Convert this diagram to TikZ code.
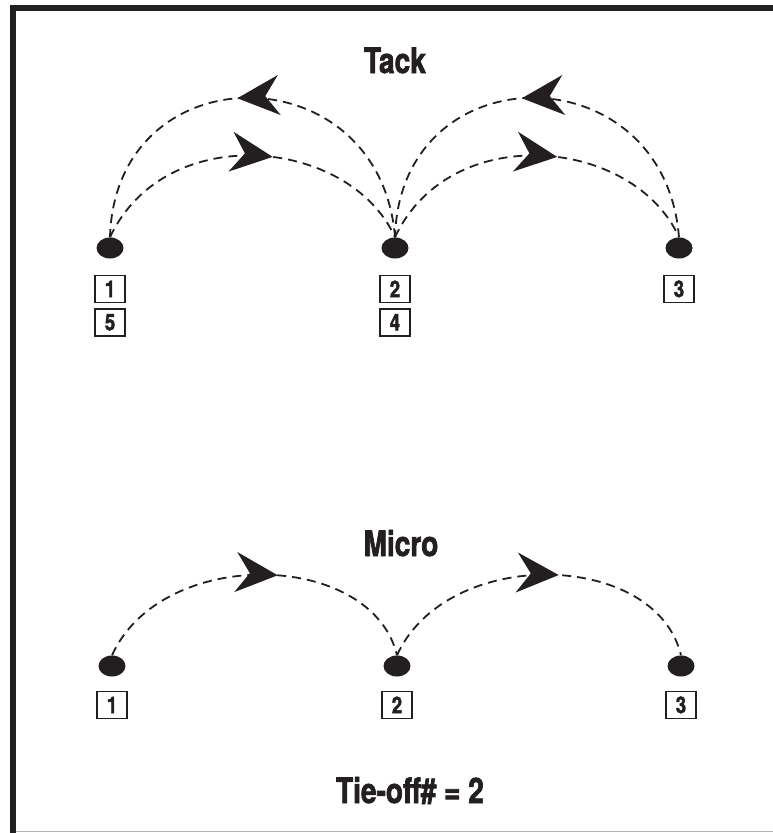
\documentclass[tikz,border=0pt]{standalone}
\usepackage{fontspec}
\setmainfont{TeX Gyre Heros}[FakeStretch=0.8,BoldFeatures={FakeBold=2}]
\usetikzlibrary{arrows.meta,positioning,shapes.geometric,decorations.markings}
\definecolor{ink}{RGB}{35,31,32}

\tikzset{
  spot/.style={ellipse,fill=ink,minimum width=27pt,minimum height=21pt,inner sep=0pt},
  numbox/.style={draw=ink,line width=1.4pt,minimum width=30pt,minimum height=27pt,inner sep=0pt,
    font=\fontsize{23}{23}\selectfont\bfseries,text=ink},
  heading/.style={font=\fontsize{35}{35}\selectfont\bfseries,text=ink,anchor=base},
  stitch/.style={ink,line width=1.8pt,dash pattern=on 9pt off 6pt},
  tipat/.style={postaction={decorate},decoration={markings,
    mark=at position #1 with {\arrow{Stealth[length=42pt,width=40pt,inset=14pt]}}}}
}

\begin{document}
\begin{tikzpicture}[x=1pt,y=1pt]
  \useasboundingbox (0,0) rectangle (773,-833);
  % frame
  \draw[ink,line width=6pt] (13,-833) -- (13,-8) -- (773,-8);
  \draw[gray!60,line width=1.5pt] (16,-831.5) -- (773,-831.5);

  % tack
  \node[heading] (tack) at (395,-73) {Tack};
  \node[spot] (t1) at (110,-248) {};
  \node[spot] (t2) at (395,-248) {};
  \node[spot] (t3) at (679,-248) {};
  \node[numbox,below=16pt of t1] (t1a) {1};
  \node[numbox,below=5pt of t1a] (t1b) {5};
  \node[numbox,below=16pt of t2] (t2a) {2};
  \node[numbox,below=5pt of t2a] (t2b) {4};
  \node[numbox,below=16pt of t3] (t3a) {3};

  \draw[stitch,tipat=0.53] (t2.north) .. controls +(-15,186) and +(5,186) .. (t1.north);
  \draw[stitch,tipat=0.56] (t1.north) .. controls +(55,118) and +(-45,100) .. (t2.north);
  \draw[stitch,tipat=0.53] (t3.north) .. controls +(-15,186) and +(5,186) .. (t2.north);
  \draw[stitch,tipat=0.56] (t2.north) .. controls +(55,118) and +(-45,100) .. (t3.north);

  % micro
  \node[heading] (micro) at (401,-556) {Micro};
  \node[spot] (m1) at (112,-666) {};
  \node[spot] (m2) at (397,-666) {};
  \node[spot] (m3) at (681,-666) {};
  \node[numbox,below=14pt of m1] (m1a) {1};
  \node[numbox,below=14pt of m2] (m2a) {2};
  \node[numbox,below=14pt of m3] (m3a) {3};

  \draw[stitch,tipat=0.56] (m1.north) .. controls +(50,110) and +(-25,105) .. (m2.north);
  \draw[stitch,tipat=0.55] (m2.north) .. controls +(50,110) and +(-25,105) .. (m3.north);

  \node[heading] (tieoff) at (410,-803) {Tie-off\# = 2};
\end{tikzpicture}
\end{document}
